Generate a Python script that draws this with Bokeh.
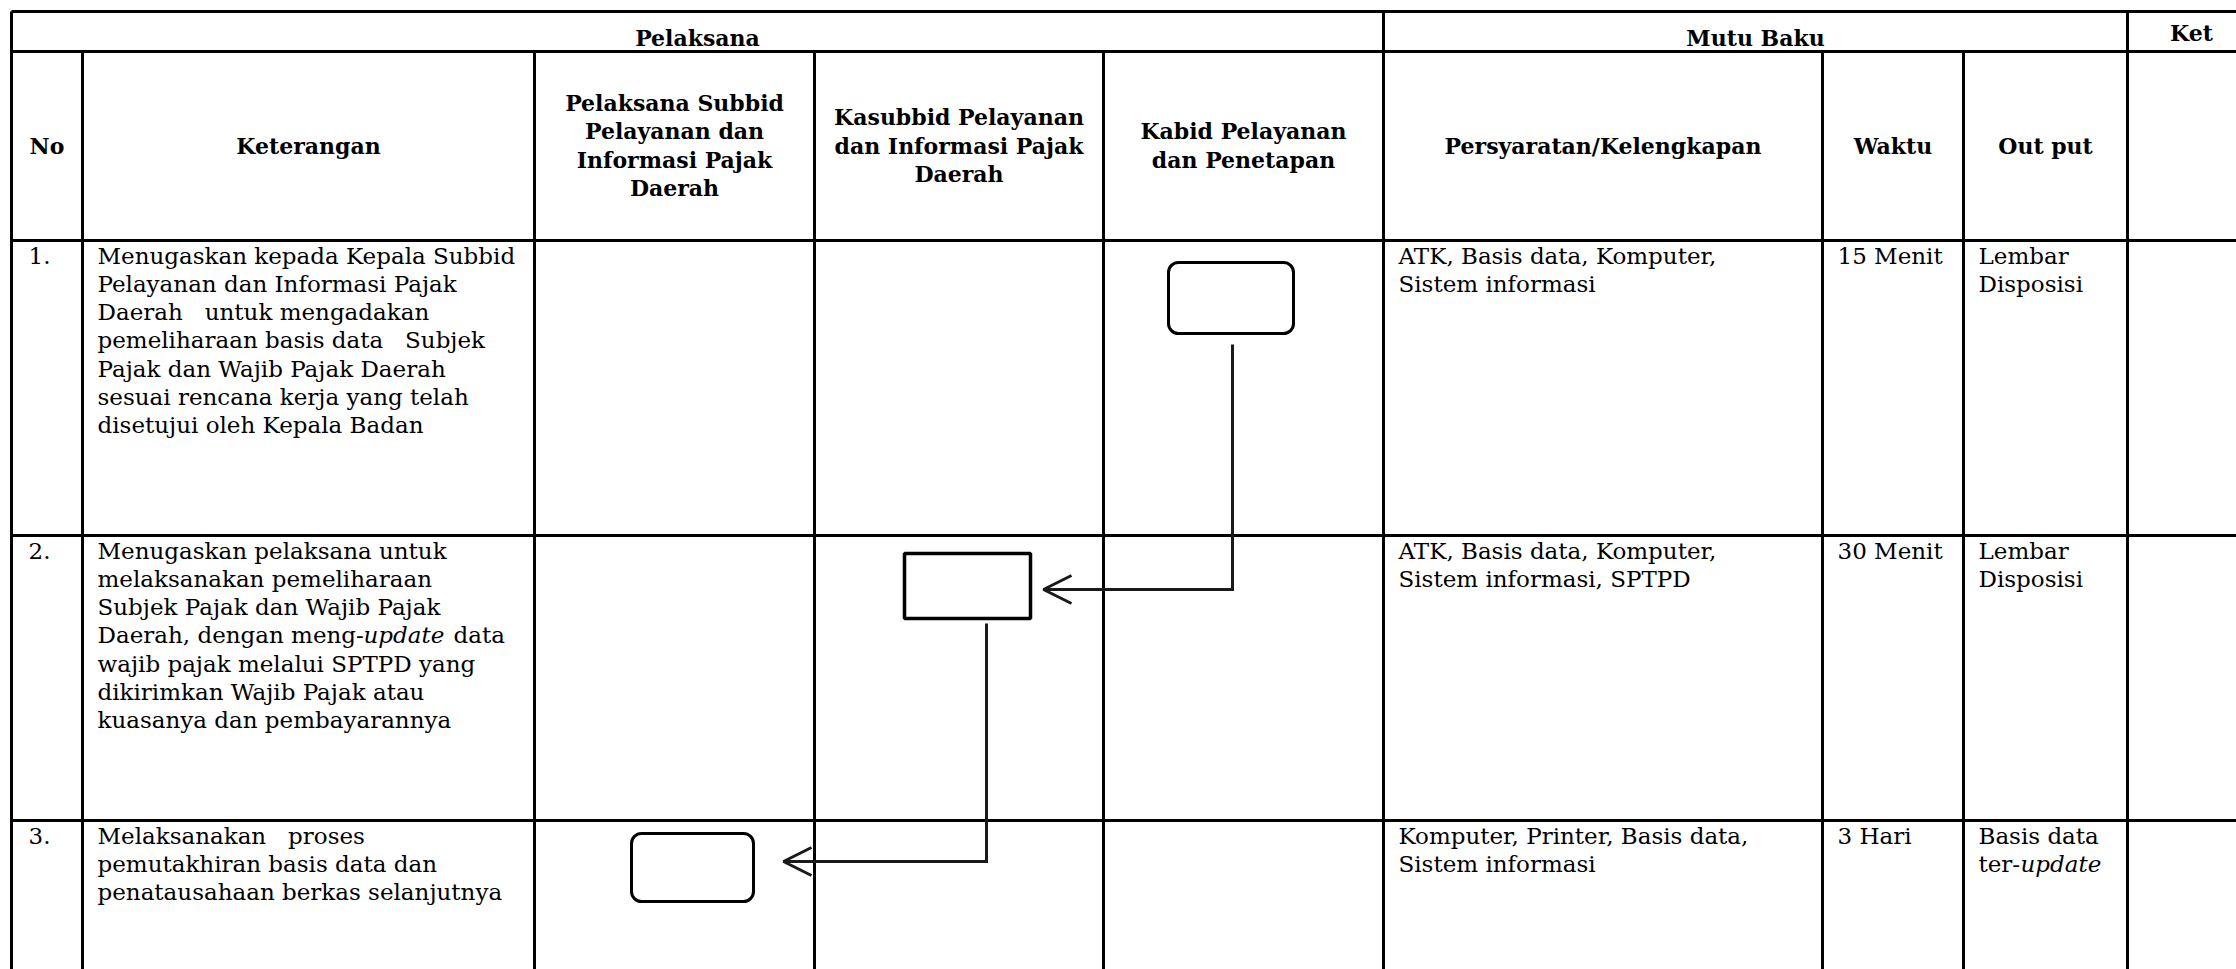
from bokeh.plotting import figure
from bokeh.models import Range1d, BoxAnnotation, Arrow, OpenHead
from bokeh.core.properties import value
from bokeh.embed import file_html
from bokeh.resources import INLINE

# ---------------- content ----------------
GROUP_LABELS = ["Pelaksana", "Mutu Baku", "Ket"]
COLUMN_HEADERS = [
    ["No"],
    ["Keterangan"],
    ["Pelaksana Subbid", "Pelayanan dan", "Informasi Pajak", "Daerah"],
    ["Kasubbid Pelayanan", "dan Informasi Pajak", "Daerah"],
    ["Kabid Pelayanan", "dan Penetapan"],
    ["Persyaratan/Kelengkapan"],
    ["Waktu"],
    ["Out put"],
    [],
]
STEP_NO = ["1.", "2.", "3."]
KETERANGAN = [
    ["Menugaskan kepada Kepala Subbid",
     "Pelayanan dan Informasi Pajak",
     "Daerah\u00a0\u00a0 untuk mengadakan",
     "pemeliharaan basis data\u00a0\u00a0 Subjek",
     "Pajak dan Wajib Pajak Daerah",
     "sesuai rencana kerja yang telah",
     "disetujui oleh Kepala Badan"],
    ["Menugaskan pelaksana untuk",
     "melaksanakan pemeliharaan",
     "Subjek Pajak dan Wajib Pajak",
     "Daerah, dengan meng-|update| data",
     "wajib pajak melalui SPTPD yang",
     "dikirimkan Wajib Pajak atau",
     "kuasanya dan pembayarannya"],
    ["Melaksanakan\u00a0\u00a0 proses",
     "pemutakhiran basis data dan",
     "penatausahaan berkas selanjutnya"],
]
PERSYARATAN = [
    ["ATK, Basis data, Komputer,", "Sistem informasi"],
    ["ATK, Basis data, Komputer,", "Sistem informasi, SPTPD"],
    ["Komputer, Printer, Basis data,", "Sistem informasi"],
]
WAKTU = [["15 Menit"], ["30 Menit"], ["3 Hari"]]
OUTPUT = [["Lembar", "Disposisi"], ["Lembar", "Disposisi"], ["Basis data", "ter-|update|"]]

# ---------------- layout (pixels) ----------------
W, H = 2236, 969
COL_EDGES = [11, 82, 534, 814, 1103, 1383, 1822, 1963, 2127, 2255]
GROUP_SPANS = [(0, 5), (5, 8), (8, 9)]
GROUP_BASE = [37, 37, 32]
KET_X = 2191
ROW_Y = [11, 51, 240, 535, 820]
BOTTOM = 975
PAD_X = 15
NO_X = 28
FIRST_BASE = 15
PITCH = 28.3
HEAD_CENTER = 145
BODY_SIZE = "23px"
HEAD_SIZE = "22px"
FONT = "DejaVu Serif"
GRID_LW = 3
CONN_LW = 3
# flowchart boxes (left, right, top, bottom, radius)
BOX = [(1168, 1293, 262, 333, 10), (904, 1030, 553, 618, 0), (631, 753, 833, 901, 10)]
BOX_LW = [3, 3.5, 3]
# connectors: (x_down, y_start, y_turn, x_tip)
CONN = [(1232, 344, 589, 1043), (986, 623, 861, 783)]
# x positions of the pieces of lines mixing roman and italic text
MIXED_X = {(1, 3): [97, 363, 453], (7, 1): [1978, 2020]}

p = figure(width=W, height=H, x_range=Range1d(0, W), y_range=Range1d(H, 0),
           output_backend="svg", toolbar_location=None, min_border=0,
           x_axis_type=None, y_axis_type=None)
p.grid.visible = False
p.outline_line_color = None
p.background_fill_color = "white"
p.border_fill_color = "white"

# ---------------- grid lines ----------------
hx0, hx1, hy = [], [], []
for y in ROW_Y:
    hx0.append(COL_EDGES[0]); hx1.append(COL_EDGES[-1]); hy.append(y)
p.segment(x0=hx0, y0=hy, x1=hx1, y1=hy, line_color="black", line_width=GRID_LW)

group_edges = {COL_EDGES[a] for a, b in GROUP_SPANS} | {COL_EDGES[0]}
vx, vy0 = [], []
for x in COL_EDGES[:-1]:
    vx.append(x)
    vy0.append(ROW_Y[0] if x in group_edges else ROW_Y[1])
p.segment(x0=vx, y0=vy0, x1=vx, y1=[BOTTOM] * len(vx), line_color="black", line_width=GRID_LW)


def txt(xs, ys, ss, size, style="normal", align="left"):
    p.text(x=xs, y=ys, text=ss, text_font=value(FONT), text_font_size=size,
           text_font_style=style, text_align=align, text_baseline="alphabetic",
           text_color="black")


# ---------------- headers ----------------
gx, gy, gs = [], [], []
for lab, (a, b), base in zip(GROUP_LABELS, GROUP_SPANS, GROUP_BASE):
    gx.append((COL_EDGES[a] + COL_EDGES[b]) / 2 if lab != "Ket" else KET_X)
    gy.append(base); gs.append(lab)
hx, hyy, hs = [], [], []
for i, lines in enumerate(COLUMN_HEADERS):
    cx = (COL_EDGES[i] + COL_EDGES[i + 1]) / 2
    n = len(lines)
    for k, s in enumerate(lines):
        hx.append(cx); hyy.append(HEAD_CENTER + (k - (n - 1) / 2) * PITCH); hs.append(s)
txt(gx + hx, gy + hyy, gs + hs, HEAD_SIZE, "bold", "center")

# ---------------- body ----------------
nx, ny, ns = [], [], []
ix, iy, iss = [], [], []


def cell(col_idx, r, lines):
    top = ROW_Y[2 + r]
    for k, s in enumerate(lines):
        y = top + FIRST_BASE + k * PITCH
        if "|" in s:
            parts = s.split("|")
            xs = MIXED_X[(col_idx, k)]
            for j, part in enumerate(parts):
                if not part.strip():
                    continue
                if j % 2 == 1:
                    ix.append(xs[j]); iy.append(y); iss.append(part)
                else:
                    nx.append(xs[j]); ny.append(y); ns.append(part.strip())
        else:
            nx.append(COL_EDGES[col_idx] + PAD_X); ny.append(y); ns.append(s)


for r in range(3):
    nx.append(NO_X); ny.append(ROW_Y[2 + r] + FIRST_BASE); ns.append(STEP_NO[r])
    cell(1, r, KETERANGAN[r])
    cell(5, r, PERSYARATAN[r])
    cell(6, r, WAKTU[r])
    cell(7, r, OUTPUT[r])
txt(nx, ny, ns, BODY_SIZE)
txt(ix, iy, iss, BODY_SIZE, "italic")

# ---------------- flowchart ----------------
for (l, rr, t, b, rad), lw in zip(BOX, BOX_LW):
    p.add_layout(BoxAnnotation(left=l, right=rr, top=t, bottom=b, border_radius=rad,
                               fill_color=None, fill_alpha=0, line_color="black",
                               line_width=lw, line_alpha=1))
for (xd, ys, yt, xt) in CONN:
    p.line(x=[xd, xd, xt + 5], y=[ys, yt, yt], line_color="#1a1a1a", line_width=CONN_LW,
           line_join="miter")
    p.add_layout(Arrow(end=OpenHead(size=28, line_width=CONN_LW, line_color="#1a1a1a"),
                       x_start=xd, y_start=yt, x_end=xt, y_end=yt,
                       line_color="#1a1a1a", line_width=CONN_LW))

open("out.html", "w").write(file_html(p, INLINE))
